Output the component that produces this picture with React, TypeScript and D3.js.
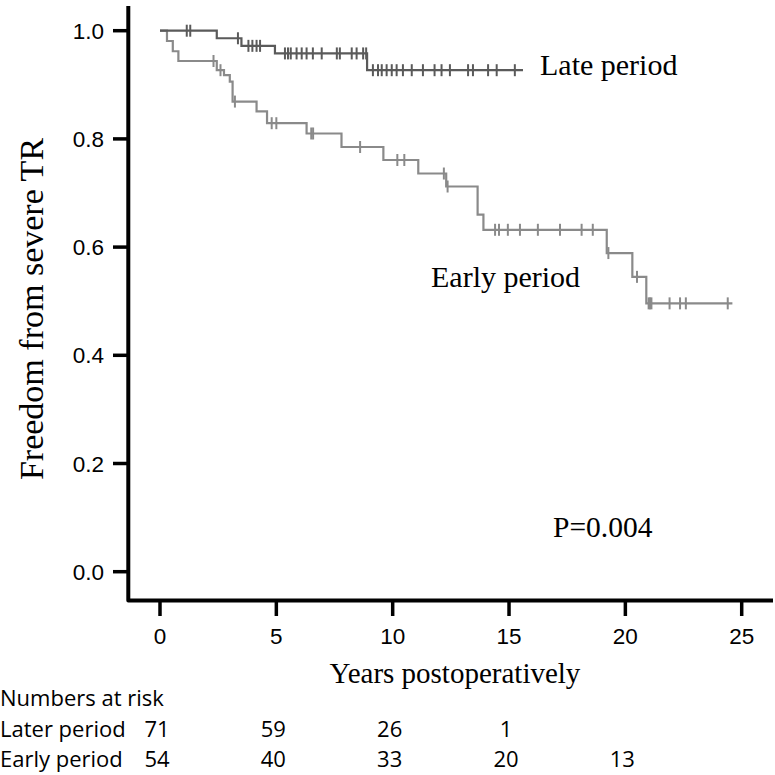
import React from "react";
import * as d3 from "d3";

// ---- Data ----
const xTicks = [0, 5, 10, 15, 20, 25];
const yTicks = [0.0, 0.2, 0.4, 0.6, 0.8, 1.0];

// Late period Kaplan-Meier steps
const lateTimes = [0, 2.44, 3.5, 4.94, 8.9];
const lateSurv = [1.0, 0.986, 0.972, 0.958, 0.927];
const lateEnd = 15.6;
const lateCensor = [
  1.15, 1.3, 3.35, 3.8, 3.97, 4.15, 4.3,
  5.37, 5.5, 5.62, 5.87, 6.09, 6.3, 6.57, 6.95, 7.6, 7.73, 8.24, 8.45, 8.73, 8.86,
  9.15, 9.37, 9.53, 9.74, 9.96, 10.17, 10.44, 10.82, 11.3, 11.8, 12.1, 12.46,
  13.24, 13.45, 14.1, 14.47, 15.25,
];

// Early period Kaplan-Meier steps
const earlyTimes = [0, 0.3, 0.55, 0.79, 2.44, 2.75, 3.0, 3.12, 4.15, 4.6, 6.3, 7.8, 9.6, 11.1, 12.3, 13.65, 13.9, 19.2, 20.3, 20.9];
const earlySurv = [1.0, 0.981, 0.962, 0.944, 0.927, 0.918, 0.906, 0.869, 0.851, 0.829, 0.81, 0.785, 0.761, 0.736, 0.712, 0.66, 0.632, 0.589, 0.545, 0.496];
const earlyEnd = 24.6;
const earlyCensor = [
  2.3, 2.6, 3.22, 4.8, 5.0, 6.5, 6.58, 8.6, 10.2, 10.5, 12.2, 12.36,
  14.4, 14.57, 14.95, 15.47, 16.24, 17.19, 18.12, 18.6, 19.27, 20.5,
  21.0, 21.06, 21.12, 21.9, 22.35, 22.6, 24.4,
];

// Numbers at risk
const riskTimes = [0, 5, 10, 15, 20];
const riskLater = ["71", "59", "26", "1", ""];
const riskEarly = ["54", "40", "33", "20", "13"];

// ---- Helpers ----
function survAt(times: number[], surv: number[], t: number) {
  let s = surv[0];
  for (let i = 0; i < times.length; i++) {
    if (times[i] <= t) s = surv[i];
  }
  return s;
}

export default function App() {
  const x = d3.scaleLinear().domain([0, 25]).range([160, 741.7]);
  const y = d3.scaleLinear().domain([0, 1]).range([571.7, 30.7]);

  const axisX = 128.3;
  const axisY = 600.5;

  const line = d3
    .line<[number, number]>()
    .x((d) => x(d[0]))
    .y((d) => y(d[1]))
    .curve(d3.curveStepAfter);

  const latePts: [number, number][] = lateTimes.map((t, i) => [t, lateSurv[i]]);
  latePts.push([lateEnd, lateSurv[lateSurv.length - 1]]);
  const earlyPts: [number, number][] = earlyTimes.map((t, i) => [t, earlySurv[i]]);
  earlyPts.push([earlyEnd, earlySurv[earlySurv.length - 1]]);

  const lateColor = "#5a5a5a";
  const earlyColor = "#8a8a8a";
  const serif = "'Liberation Serif', 'Times New Roman', serif";
  const sans = "'Liberation Sans', Arial, sans-serif";
  const tableFont = "'Open Sans', sans-serif";
  const tfs = 22;

  return (
    <svg
      width={775}
      height={775}
      style={{ position: "absolute", left: 0, top: 0, background: "#fff" }}
    >
      <rect x={0} y={0} width={775} height={775} fill="#fff" />

      {/* Curves */}
      <path d={line(earlyPts) || ""} fill="none" stroke={earlyColor} strokeWidth={2.2} />
      {earlyCensor.map((t, i) => {
        const cx = x(t);
        const cy = y(survAt(earlyTimes, earlySurv, t));
        return <line key={"ec" + i} x1={cx} x2={cx} y1={cy - 6} y2={cy + 6} stroke={earlyColor} strokeWidth={2} />;
      })}
      <path d={line(latePts) || ""} fill="none" stroke={lateColor} strokeWidth={2.2} />
      {lateCensor.map((t, i) => {
        const cx = x(t);
        const cy = y(survAt(lateTimes, lateSurv, t));
        return <line key={"lc" + i} x1={cx} x2={cx} y1={cy - 6} y2={cy + 6} stroke={lateColor} strokeWidth={2} />;
      })}

      {/* Axes */}
      <path
        d={`M${axisX},6 L${axisX},${axisY} L773,${axisY}`}
        fill="none"
        stroke="#000"
        strokeWidth={4}
        strokeLinejoin="round"
      />
      {yTicks.map((v) => (
        <g key={"yt" + v}>
          <line x1={113} x2={axisX} y1={y(v)} y2={y(v)} stroke="#000" strokeWidth={3.5} />
          <text x={104} y={y(v) + 8} textAnchor="end" fontFamily={sans} fontSize={22.5} fill="#000">
            {v.toFixed(1)}
          </text>
        </g>
      ))}
      {xTicks.map((v) => (
        <g key={"xt" + v}>
          <line x1={x(v)} x2={x(v)} y1={axisY} y2={616} stroke="#000" strokeWidth={3.5} />
          <text x={x(v)} y={644} textAnchor="middle" fontFamily={sans} fontSize={22.5} fill="#000">
            {v}
          </text>
        </g>
      ))}

      {/* Axis titles */}
      <text x={455} y={683} textAnchor="middle" fontFamily={serif} fontSize={29} fill="#000">
        Years postoperatively
      </text>
      <text
        transform={`translate(43,309) rotate(-90)`}
        textAnchor="middle"
        fontFamily={serif}
        fontSize={34}
        fill="#000"
      >
        Freedom from severe TR
      </text>

      {/* Annotations */}
      <text x={540} y={75} fontFamily={serif} fontSize={30} fill="#000">Late period</text>
      <text x={431} y={287} fontFamily={serif} fontSize={30} fill="#000">Early period</text>
      <text x={553} y={537} fontFamily={serif} fontSize={29.5} fill="#000">P=0.004</text>

      {/* Numbers at risk */}
      <text x={0} y={706} fontFamily={tableFont} fontSize={tfs} fill="#000">Numbers at risk</text>
      <text x={0} y={737} fontFamily={tableFont} fontSize={tfs} fill="#000">Later period</text>
      <text x={0} y={767} fontFamily={tableFont} fontSize={tfs} fill="#000">Early period</text>
      {riskTimes.map((t, i) => (
        <g key={"r" + i}>
          <text x={x(t) - 3} y={737} textAnchor="middle" fontFamily={tableFont} fontSize={tfs} fill="#000">
            {riskLater[i]}
          </text>
          <text x={x(t) - 3} y={767} textAnchor="middle" fontFamily={tableFont} fontSize={tfs} fill="#000">
            {riskEarly[i]}
          </text>
        </g>
      ))}
    </svg>
  );
}
